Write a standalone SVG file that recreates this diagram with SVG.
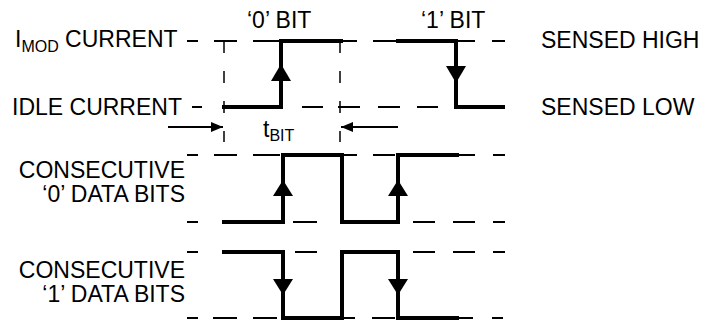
<svg xmlns="http://www.w3.org/2000/svg" width="707" height="320" viewBox="0 0 707 320">
<style>
text{font-family:"Liberation Sans",Arial,sans-serif;fill:#000}
.lb{font-size:23px}
.sub{font-size:16px}
.d{stroke:#000;stroke-width:2;fill:none}
.v{stroke:#000;stroke-width:1.5;fill:none;stroke-dasharray:12 18}
.w{stroke:#000;stroke-width:4;fill:none;stroke-linejoin:miter;stroke-linecap:square}
.ah{fill:#000}
</style>
<defs>
<marker id="dimArrow" viewBox="0 0 12 10" refX="12" refY="5" markerWidth="12" markerHeight="10" markerUnits="userSpaceOnUse" orient="auto">
<path d="M0,0 L12,5 L0,10 Z" fill="#000"/>
</marker>
</defs>
<g id="labels">
<text class="lb" x="15" y="47">I<tspan class="sub" dy="5">MOD</tspan><tspan dy="-5"> CURRENT</tspan></text>
<text class="lb" x="12" y="115">IDLE CURRENT</text>
<text class="lb" x="247" y="28">‘0’ BIT</text>
<text class="lb" x="421" y="28">‘1’ BIT</text>
<text class="lb" x="541" y="48">SENSED HIGH</text>
<text class="lb" x="541" y="115">SENSED LOW</text>
<text class="lb" x="263" y="137">t<tspan class="sub" dy="4">BIT</tspan></text>
<text class="lb" x="185" y="178" text-anchor="end">CONSECUTIVE</text>
<text class="lb" x="185" y="202" text-anchor="end">‘0’ DATA BITS</text>
<text class="lb" x="185" y="278" text-anchor="end">CONSECUTIVE</text>
<text class="lb" x="185" y="302" text-anchor="end">‘1’ DATA BITS</text>
</g>
<g id="connectors">
<path class="d" d="M187,41H198 M214,41H237 M253,41H280 M343,41H357 M373,41H397 M457,41H475 M492,41H505"/>
<path class="d" d="M192,107H202 M302,107H323 M338,107H360 M378,107H400 M417,107H438"/>
<path class="v" d="M224,41V142 M340,41V142"/>
<path class="w" d="M224,107H281V41H341"/>
<path class="w" d="M398,41H456V107H503"/>
<polygon class="ah" points="281,64 271,81 291,81"/>
<polygon class="ah" points="456,83 446,66 466,66"/>
<line class="d" x1="168" y1="127" x2="223" y2="127" marker-end="url(#dimArrow)"/>
<line class="d" x1="398" y1="127" x2="341" y2="127" marker-end="url(#dimArrow)"/>
<path class="d" d="M187,155H198 M214,155H237 M253,155H280 M343,155H357 M373,155H395 M459,155H475 M493,155H505"/>
<path class="d" d="M187,222H198 M293,222H317 M413,222H435 M453,222H475 M493,222H505"/>
<path class="w" d="M224,222H283V155H342V222H398V155H457"/>
<polygon class="ah" points="283,180 273,196 293,196"/>
<polygon class="ah" points="398,180 388,196 408,196"/>
<path class="d" d="M187,252H198 M295,252H317 M413,252H435 M453,252H475 M493,252H505"/>
<path class="d" d="M187,318H198 M213,318H237 M253,318H277 M343,318H355 M372,318H395 M459,318H473 M492,318H503"/>
<path class="w" d="M224,252H283V318H342V252H398V318H457"/>
<polygon class="ah" points="283,295 273,279 293,279"/>
<polygon class="ah" points="398,295 388,279 408,279"/>
</g>
</svg>
